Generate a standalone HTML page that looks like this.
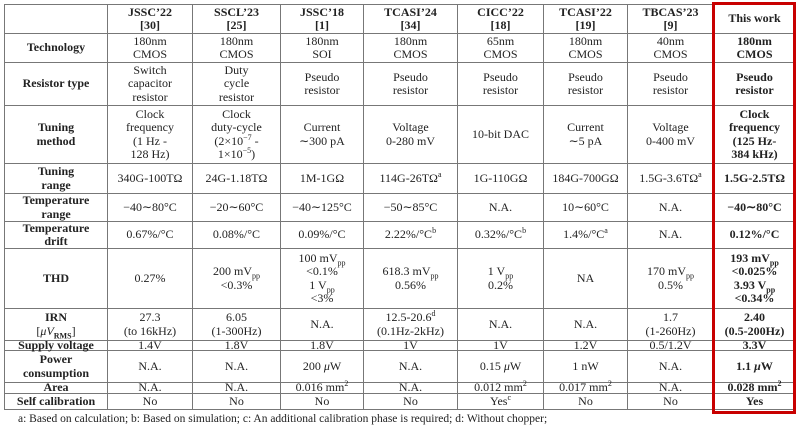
<!DOCTYPE html>
<html><head><meta charset="utf-8"><style>
body{margin:0;width:800px;height:434px;background:#fff;position:relative;overflow:hidden;font-family:"Liberation Serif",serif;color:#222}
#g{position:absolute;left:4px;top:4px;display:grid;
grid-template-columns:103px 85px 88px 83px 94px 86px 84px 86px 82px;
grid-template-rows:29px 29px 43px 58px 30px 28px 27px 60px 32px 10px 32px 11px 16px;
border-left:1px solid #777;border-top:1px solid #777;font-size:12px;line-height:13.5px}
#g>div{border-right:1px solid #777;border-bottom:1px solid #777;display:flex;align-items:center;justify-content:center;text-align:center;overflow:visible;white-space:nowrap}
#g>div>span{display:block}
.b{font-weight:bold}
sup,sub{font-size:8px;line-height:0}
#red{position:absolute;left:712px;top:2px;width:78px;height:406px;border:3px solid #c80000}
#fn{position:absolute;left:18px;top:413px;font-size:11.5px;font-family:"Liberation Serif",serif}
</style></head><body>
<div id="g">
<div></div><div class="b"><span>JSSC’22<br>[30]</span></div><div class="b"><span>SSCL’23<br>[25]</span></div><div class="b"><span>JSSC’18<br>[1]</span></div><div class="b"><span>TCASI’24<br>[34]</span></div><div class="b"><span>CICC’22<br>[18]</span></div><div class="b"><span>TCASI’22<br>[19]</span></div><div class="b"><span>TBCAS’23<br>[9]</span></div><div class="b"><span>This work</span></div>

<div class="b"><span>Technology</span></div><div><span>180nm<br>CMOS</span></div><div><span>180nm<br>CMOS</span></div><div><span>180nm<br>SOI</span></div><div><span>180nm<br>CMOS</span></div><div><span>65nm<br>CMOS</span></div><div><span>180nm<br>CMOS</span></div><div><span>40nm<br>CMOS</span></div><div class="b"><span>180nm<br>CMOS</span></div>

<div class="b"><span>Resistor type</span></div><div><span>Switch<br>capacitor<br>resistor</span></div><div><span>Duty<br>cycle<br>resistor</span></div><div><span>Pseudo<br>resistor</span></div><div><span>Pseudo<br>resistor</span></div><div><span>Pseudo<br>resistor</span></div><div><span>Pseudo<br>resistor</span></div><div><span>Pseudo<br>resistor</span></div><div class="b"><span>Pseudo<br>resistor</span></div>

<div class="b"><span>Tuning<br>method</span></div><div><span>Clock<br>frequency<br>(1 Hz -<br>128 Hz)</span></div><div><span>Clock<br>duty-cycle<br>(2×10<sup>−7</sup> -<br>1×10<sup>−5</sup>)</span></div><div><span>Current<br>∼300 pA</span></div><div><span>Voltage<br>0-280 mV</span></div><div><span>10-bit DAC</span></div><div><span>Current<br>∼5 pA</span></div><div><span>Voltage<br>0-400 mV</span></div><div class="b"><span>Clock<br>frequency<br>(125 Hz-<br>384 kHz)</span></div>

<div class="b"><span>Tuning<br>range</span></div><div><span>340G-100TΩ</span></div><div><span>24G-1.18TΩ</span></div><div><span>1M-1GΩ</span></div><div><span>114G-26TΩ<sup>a</sup></span></div><div><span>1G-110GΩ</span></div><div><span>184G-700GΩ</span></div><div><span>1.5G-3.6TΩ<sup>a</sup></span></div><div class="b"><span>1.5G-2.5TΩ</span></div>

<div class="b"><span>Temperature<br>range</span></div><div><span>−40∼80°C</span></div><div><span>−20∼60°C</span></div><div><span>−40∼125°C</span></div><div><span>−50∼85°C</span></div><div><span>N.A.</span></div><div><span>10∼60°C</span></div><div><span>N.A.</span></div><div class="b"><span>−40∼80°C</span></div>

<div class="b"><span>Temperature<br>drift</span></div><div><span>0.67%/°C</span></div><div><span>0.08%/°C</span></div><div><span>0.09%/°C</span></div><div><span>2.22%/°C<sup>b</sup></span></div><div><span>0.32%/°C<sup>b</sup></span></div><div><span>1.4%/°C<sup>a</sup></span></div><div><span>N.A.</span></div><div class="b"><span>0.12%/°C</span></div>

<div class="b"><span>THD</span></div><div><span>0.27%</span></div><div><span>200 mV<sub>pp</sub><br>&lt;0.3%</span></div><div><span>100 mV<sub>pp</sub><br>&lt;0.1%<br>1 V<sub>pp</sub><br>&lt;3%</span></div><div><span>618.3 mV<sub>pp</sub><br>0.56%</span></div><div><span>1 V<sub>pp</sub><br>0.2%</span></div><div><span>NA</span></div><div><span>170 mV<sub>pp</sub><br>0.5%</span></div><div class="b"><span>193 mV<sub>pp</sub><br>&lt;0.025%<br>3.93 V<sub>pp</sub><br>&lt;0.34%</span></div>

<div class="b"><span>IRN<br><span style="font-weight:normal">[<i>μV</i><sub style="font-weight:bold">RMS</sub>]</span></span></div><div><span>27.3<br>(to 16kHz)</span></div><div><span>6.05<br>(1-300Hz)</span></div><div><span>N.A.</span></div><div><span>12.5-20.6<sup>d</sup><br>(0.1Hz-2kHz)</span></div><div><span>N.A.</span></div><div><span>N.A.</span></div><div><span>1.7<br>(1-260Hz)</span></div><div class="b"><span>2.40<br>(0.5-200Hz)</span></div>

<div class="b"><span>Supply voltage</span></div><div><span>1.4V</span></div><div><span>1.8V</span></div><div><span>1.8V</span></div><div><span>1V</span></div><div><span>1V</span></div><div><span>1.2V</span></div><div><span>0.5/1.2V</span></div><div class="b"><span>3.3V</span></div>

<div class="b"><span>Power<br>consumption</span></div><div><span>N.A.</span></div><div><span>N.A.</span></div><div><span>200 <i>μ</i>W</span></div><div><span>N.A.</span></div><div><span>0.15 <i>μ</i>W</span></div><div><span>1 nW</span></div><div><span>N.A.</span></div><div class="b"><span>1.1 <i>μ</i>W</span></div>

<div class="b"><span>Area</span></div><div><span>N.A.</span></div><div><span>N.A.</span></div><div><span>0.016 mm<sup>2</sup></span></div><div><span>N.A.</span></div><div><span>0.012 mm<sup>2</sup></span></div><div><span>0.017 mm<sup>2</sup></span></div><div><span>N.A.</span></div><div class="b"><span>0.028 mm<sup>2</sup></span></div>

<div class="b"><span>Self calibration</span></div><div><span>No</span></div><div><span>No</span></div><div><span>No</span></div><div><span>No</span></div><div><span>Yes<sup>c</sup></span></div><div><span>No</span></div><div><span>No</span></div><div class="b"><span>Yes</span></div>
</div>
<div id="red"></div>
<div id="fn">a: Based on calculation; b: Based on simulation; c: An additional calibration phase is required; d: Without chopper;</div>
</body></html>
